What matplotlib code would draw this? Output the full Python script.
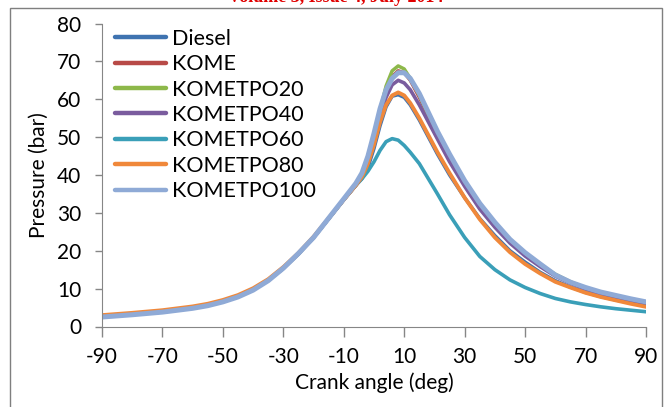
import matplotlib
matplotlib.use("Agg")
import matplotlib.pyplot as plt
from matplotlib.patches import Rectangle

plt.rcParams["font.family"] = ["Lato", "DejaVu Sans"]
plt.rcParams["axes.unicode_minus"] = False

# crank angle (deg)
angle = [-90, -80, -70, -60, -55, -50, -45, -40, -35, -30, -25, -20, -15, -10, -6, -4, -2, 0, 2, 4, 6, 8, 10, 12,
         15, 18, 21, 25, 30, 35, 40, 45, 50, 55, 60, 65, 70, 75, 80, 85, 90]

# cylinder pressure (bar)
diesel = [2.6, 3.2, 3.9, 4.9, 5.6, 6.6, 7.9, 9.7, 12.2, 15.4, 19.2, 23.5, 28.5, 33.5, 37.3, 39, 42, 47, 53, 58, 60.8, 61.2, 60.5, 58.5,
          54.5, 50, 45.5, 40, 34, 28.5, 24, 20, 17, 14.3, 12.1, 10.4, 9, 7.9, 7, 6.2, 5.5]
kome = [2.6, 3.2, 3.9, 4.9, 5.6, 6.6, 7.9, 9.7, 12.2, 15.4, 19.2, 23.5, 28.5, 33.5, 37.3, 39.5, 43, 49, 56, 62, 66, 67.5, 67, 65,
        60.5, 55.5, 50.5, 44.5, 37.5, 31.5, 26.5, 22.3, 18.9, 16, 13.6, 11.6, 10, 8.8, 7.9, 7.1, 6.3]
kometpo20 = [2.6, 3.2, 3.9, 4.9, 5.6, 6.6, 7.9, 9.7, 12.2, 15.4, 19.2, 23.5, 28.5, 33.5, 37.3, 39.5, 43.5, 49.5, 57, 63.5, 67.5, 68.8, 68, 65.5,
             61, 56, 51, 45, 38, 32, 27, 22.7, 19.2, 16.3, 13.8, 11.8, 10.2, 9, 8.1, 7.2, 6.4]
kometpo40 = [2.6, 3.2, 3.9, 4.9, 5.6, 6.6, 7.9, 9.7, 12.2, 15.4, 19.2, 23.5, 28.5, 33.5, 37.3, 39.5, 43, 48.5, 55, 60.5, 63.8, 65, 64.3, 62.5,
             58.5, 54, 49.5, 43.5, 37, 31, 26.2, 22, 18.6, 15.8, 13.3, 11.4, 9.9, 8.7, 7.7, 6.9, 6.1]
kometpo60 = [2.6, 3.2, 3.9, 4.9, 5.6, 6.6, 7.9, 9.7, 12.2, 15.4, 19.2, 23.5, 28.5, 33.5, 37.3, 39, 41, 43.5, 46.5, 48.8, 49.6, 49.2, 47.8, 46,
             43, 39, 35, 29.5, 23.5, 18.5, 15, 12.3, 10.3, 8.7, 7.4, 6.5, 5.8, 5.2, 4.7, 4.3, 3.9]
kometpo80 = [3.0, 3.6, 4.3, 5.3, 6.0, 7.0, 8.3, 10.1, 12.5, 15.7, 19.4, 23.7, 28.6, 33.5, 37.3, 39.5, 43, 48, 54, 58.5, 61, 61.8, 61, 59,
             55, 50.5, 46, 40.5, 34, 28.3, 23.5, 19.6, 16.5, 14, 11.8, 10.3, 8.9, 7.8, 6.9, 6, 5.2]
kometpo100 = [2.5, 3.1, 3.8, 4.8, 5.5, 6.5, 7.8, 9.6, 12.1, 15.4, 19.3, 23.5, 28.6, 33.7, 37.8, 40.5, 45, 51, 57.5, 62.5, 65.5, 67, 67, 65.5,
              61.5, 56.5, 51.5, 45.5, 38.5, 32.5, 27.5, 23, 19.5, 16.5, 13.6, 11.7, 10.3, 9.1, 8.2, 7.3, 6.5]

series = [
    ("Diesel", diesel, "#3F73B0", 2.5),
    ("KOME", kome, "#B84A47", 2.5),
    ("KOMETPO20", kometpo20, "#8DB84A", 2.5),
    ("KOMETPO40", kometpo40, "#7A5C9E", 2.6),
    ("KOMETPO60", kometpo60, "#3A9FB8", 2.6),
    ("KOMETPO80", kometpo80, "#F0883A", 2.8),
    ("KOMETPO100", kometpo100, "#8FAAD6", 3.6),
]

fig = plt.figure(figsize=(6.72, 4.07), dpi=100)
ax = fig.add_axes([102 / 672, 1 - 326.5 / 407, 544 / 672, 303 / 407])

for name, vals, col, lw in series:
    ax.plot(angle, vals, color=col, lw=lw, label=name, solid_capstyle="round", solid_joinstyle="round")

ax.set_xlim(-90, 90)
ax.set_ylim(0, 80)
ax.set_xticks(range(-90, 91, 20))
ax.set_yticks(range(0, 81, 10))
ax.set_xlabel("Crank angle (deg)", fontsize=15, labelpad=4)
ax.set_ylabel("Pressure (bar)", fontsize=15, labelpad=5.5)
ax.tick_params(axis="x", length=7, width=1, color="#868686", labelsize=15, pad=8)
ax.tick_params(axis="y", length=5, width=1, color="#868686", labelsize=15, pad=10)
for s in ["top", "right"]:
    ax.spines[s].set_visible(False)
for s in ["left", "bottom"]:
    ax.spines[s].set_color("#868686")

leg = ax.legend(loc="upper left", bbox_to_anchor=(0.0, 1.025), frameon=False, fontsize=15.5,
                handlelength=2.35, handletextpad=0.3, labelspacing=0.25, borderaxespad=0.2)
for h in leg.get_lines():
    h.set_linewidth(3.2)

# outer chart frame
fig.patches.append(Rectangle((10 / 672, -0.05), 652 / 672, 1.05 - 8 / 407, transform=fig.transFigure,
                             fill=False, edgecolor="#7F7F7F", lw=1))
fig.text(0.5, 1 - 1.5 / 407, "Volume 3, Issue 4, July 2014", color="#E00000", fontsize=13,
         fontweight="bold", family="Liberation Serif", ha="center", va="baseline")

fig.savefig("out.png", dpi=100)
